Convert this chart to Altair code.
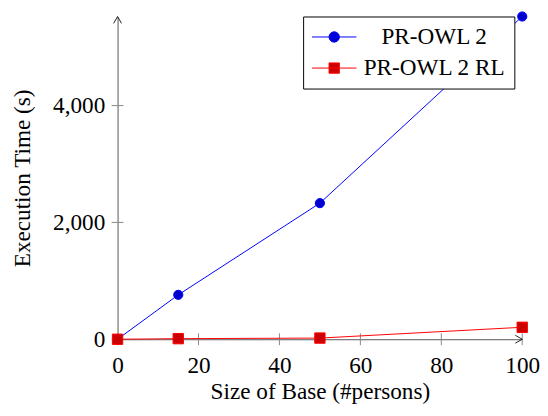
import altair as alt
import pandas as pd

# ---- data ----
sizes = [0, 15, 50, 100]
prowl2 = [0, 760, 2330, 5525]
prowl2_rl = [0, 10, 20, 205]
series_names = ["PR-OWL 2", "PR-OWL 2 RL"]
x_ticks = [0, 20, 40, 60, 80, 100]
y_ticks = [0, 2000, 4000]
x_max = 100
y_max = 5525

df = pd.DataFrame({
    "size": sizes * 2,
    "time": prowl2 + prowl2_rl,
    "series": [series_names[0]] * len(sizes) + [series_names[1]] * len(sizes),
})
df_xt = pd.DataFrame({"size": x_ticks, "time": [0] * len(x_ticks)})
df_yt = pd.DataFrame({"size": [0] * len(y_ticks), "time": y_ticks})
df_xa = pd.DataFrame({"size": [x_max], "time": [0]})
df_ya = pd.DataFrame({"size": [0], "time": [y_max]})

FONT = "Liberation Serif"
BLUE, BLUE_F = "#0000ff", "#0000cc"
RED, RED_F = "#ff0000", "#cc0000"
AXC = "#555555"

W, H = 410, 327

xs = alt.Scale(domain=[0, x_max], nice=False, zero=False)
ys = alt.Scale(domain=[0, y_max], nice=False, zero=False)

axis_common = dict(ticks=False, grid=False, labelFlush=False,
                   labelFont=FONT, labelFontSize=23.5, labelColor="black",
                   titleFont=FONT, titleFontSize=23.5, titleFontWeight="normal",
                   titleColor="black", domainColor=AXC, domainWidth=1)

x_enc = alt.X("size:Q", scale=xs, axis=alt.Axis(
    values=x_ticks, format=".0f", title="Size of Base (#persons)",
    labelPadding=15, titlePadding=3, **axis_common))
y_enc = alt.Y("time:Q", scale=ys, axis=alt.Axis(
    values=y_ticks, format=",.0f", title="Execution Time (s)",
    labelPadding=13, titlePadding=18, **axis_common))

xticks = alt.Chart(df_xt).mark_rule(color="#888888", strokeWidth=1,
                                     yOffset=6, y2Offset=-6).encode(
    x=x_enc, y=y_enc, y2="time:Q")
yticks = alt.Chart(df_yt).mark_rule(color="#888888", strokeWidth=1,
                                     xOffset=-6, x2Offset=6).encode(
    x=x_enc, x2="size:Q", y=y_enc)

line_blue = alt.Chart(df).transform_filter(
    alt.datum.series == series_names[0]
).mark_line(strokeWidth=1, color=BLUE).encode(x=x_enc, y=y_enc, order=alt.Order("size:Q"))
line_red = alt.Chart(df).transform_filter(
    alt.datum.series == series_names[1]
).mark_line(strokeWidth=1, color=RED).encode(x=x_enc, y=y_enc, order=alt.Order("size:Q"))

pts_blue = alt.Chart(df).transform_filter(
    alt.datum.series == series_names[0]
).mark_point(shape="circle", filled=True, fill=BLUE_F, stroke=BLUE, strokeWidth=1,
             size=87, opacity=1).encode(x=x_enc, y=y_enc)
pts_red = alt.Chart(df).transform_filter(
    alt.datum.series == series_names[1]
).mark_point(shape="square", filled=True, fill=RED_F, stroke=RED, strokeWidth=1,
             size=110, opacity=1).encode(x=x_enc, y=y_enc)

arrow_x = alt.Chart(df_xa).mark_point(
    shape="M-3.5,-2L0,0L-3.5,2", filled=False, stroke="#222222", strokeWidth=1,
    size=16, opacity=1).encode(x=x_enc, y=y_enc)
arrow_y = alt.Chart(df_ya).mark_point(
    shape="M-2,3.5L0,0L2,3.5", filled=False, stroke="#222222", strokeWidth=1,
    size=16, opacity=1).encode(x=x_enc, y=y_enc)

leg_circle = "M-4.09,0H4.09M0.95,0A0.95,0.95,0,1,1,-0.95,0A0.95,0.95,0,1,1,0.95,0Z"
leg_square = "M-4.09,0H4.09M-0.95,-0.95H0.95V0.95H-0.95Z"

leg = alt.Legend(
    title=None, orient="none", legendX=188, legendY=0, padding=9,
    strokeColor="black", fillColor="white",
    symbolSize=121, symbolStrokeWidth=1, symbolOffset=10.75,
    symbolOpacity=1, symbolFillColor=BLUE_F,
    labelOffset=89.5, labelAlign="center", labelFont=FONT, labelFontSize=23.5,
    labelColor="black", labelLimit=400, rowPadding=6.5,
)

legend_layer = alt.Chart(df).mark_point(
    filled=True, strokeWidth=1, opacity=0).encode(
    x=x_enc, y=y_enc,
    fill=alt.Fill("series:N", title=None, legend=leg,
                  scale=alt.Scale(domain=series_names, range=[BLUE_F, RED_F])),
    stroke=alt.Stroke("series:N", title=None, legend=leg,
                      scale=alt.Scale(domain=series_names, range=[BLUE, RED])),
    shape=alt.Shape("series:N", title=None, legend=leg,
                    scale=alt.Scale(domain=series_names, range=[leg_circle, leg_square])),
)

chart = alt.layer(
    xticks, yticks, line_blue, line_red, pts_blue, pts_red, arrow_x, arrow_y, legend_layer
).properties(
    width=W, height=H,
    padding={"left": 111, "top": 6, "right": 18, "bottom": 63},
    autosize=alt.AutoSizeParams(type="none"),
).configure_view(stroke=None)

chart.save("out.html", embed_options={"renderer": "svg", "actions": False})
